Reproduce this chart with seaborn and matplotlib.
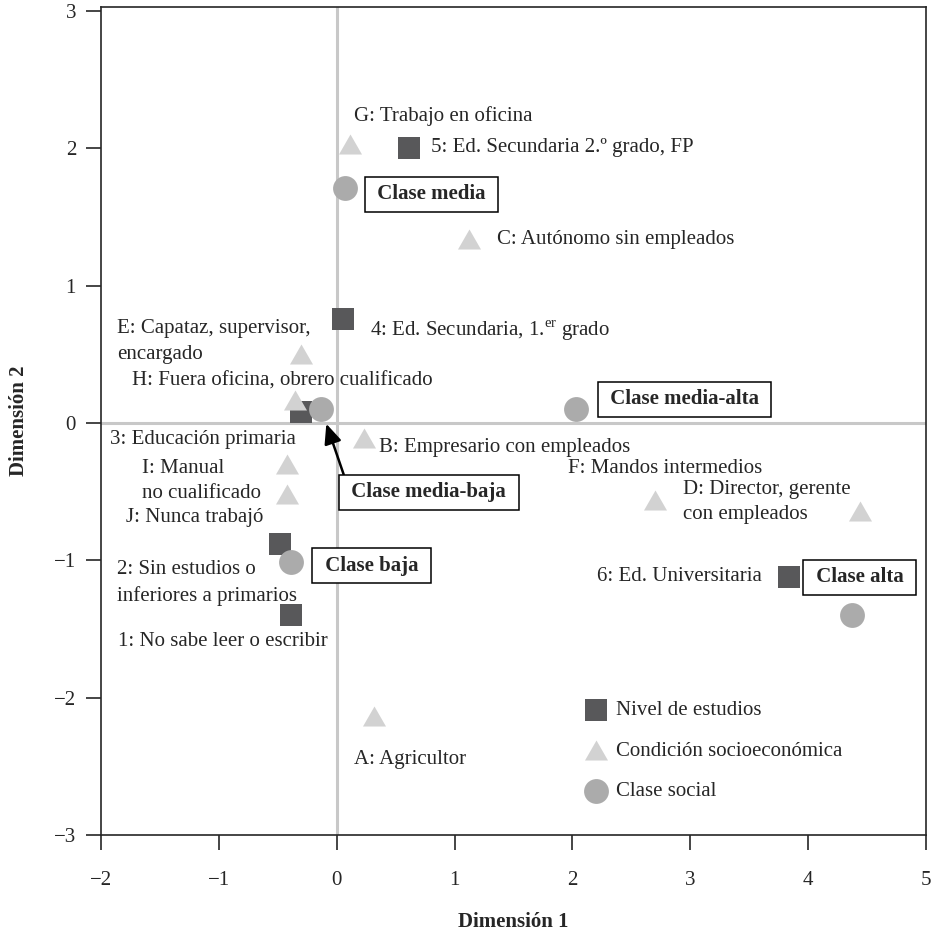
import matplotlib
matplotlib.use("Agg")
import matplotlib.pyplot as plt
from matplotlib.path import Path
import seaborn as sns
import pandas as pd

# Nivel de estudios (squares)
estudios_lab = ["1: No sabe leer o escribir", "2: Sin estudios o\ninferiores a primarios",
                "3: Educación primaria", r"4: Ed. Secundaria, 1.$^{\mathrm{er}}$ grado",
                "5: Ed. Secundaria 2.º grado, FP", "6: Ed. Universitaria"]
estudios_x = [-0.39, -0.48, -0.30, 0.05, 0.61, 3.84]
estudios_y = [-1.40, -0.88, 0.08, 0.76, 2.00, -1.12]

# Condición socioeconómica (triangles)
condicion_lab = ["A: Agricultor", "B: Empresario con empleados", "C: Autónomo sin empleados",
                 "D: Director, gerente\ncon empleados", "E: Capataz, supervisor,\nencargado",
                 "F: Mandos intermedios", "G: Trabajo en oficina",
                 "H: Fuera oficina, obrero cualificado", "I: Manual\nno cualificado",
                 "J: Nunca trabajó"]
condicion_x = [0.32, 0.23, 1.12, 4.44, -0.30, 2.70, 0.11, -0.35, -0.42, -0.42]
condicion_y = [-2.13, -0.11, 1.34, -0.64, 0.50, -0.56, 2.03, 0.17, -0.30, -0.52]

# Clase social (circles)
clase_lab = ["Clase baja", "Clase media-baja", "Clase media", "Clase media-alta", "Clase alta"]
clase_x = [-0.39, -0.13, 0.07, 2.03, 4.37]
clase_y = [-1.01, 0.10, 1.71, 0.10, -1.40]

# text offsets in pixels (dx, dy up, ha)
offsets = {
    "1": (-173, -26, "left"), "2": (-163, -39, "left"), "3": (-191, -27, "left"),
    "4": (27, -12, "left"), "5": (22, 1, "left"), "6": (-27, 0, "right"),
    "A": (-20, -44, "left"), "B": (15, -9, "left"), "C": (28, 0, "left"),
    "D": (-177, 9, "left"), "E": (-184, 13, "left"), "F": (-87, 31, "left"),
    "G": (4, 28, "left"), "H": (-163, 19, "left"), "I": (-145, -17, "left"),
    "J": (-161, -23, "left"),
    "Clase baja": (29, -4, "left"), "Clase media-baja": (25, -83, "left"),
    "Clase media": (27, -6, "left"), "Clase media-alta": (29, 10, "left"),
    "Clase alta": (-41, 38, "left"),
}

sns.set_style("ticks")
plt.rcParams["font.family"] = ["Liberation Serif", "DejaVu Serif"]
plt.rcParams["mathtext.fontset"] = "custom"
plt.rcParams["mathtext.rm"] = "Liberation Serif"

FS = 15
tri = Path([(-1, -0.87), (1, -0.87), (0, 0.87), (-1, -0.87)],
           [Path.MOVETO, Path.LINETO, Path.LINETO, Path.CLOSEPOLY])

fig = plt.figure(figsize=(9.31, 9.34), dpi=100)
ax = fig.add_axes([0.1085, 0.106, 0.886, 0.8865])
ax.axvline(0, color="#c8c8c8", lw=2.2, zorder=0)
ax.axhline(0, color="#c8c8c8", lw=2.2, zorder=0)

df_e = pd.DataFrame({"x": estudios_x, "y": estudios_y})
df_c = pd.DataFrame({"x": condicion_x, "y": condicion_y})
df_s = pd.DataFrame({"x": clase_x, "y": clase_y})

sns.scatterplot(data=df_e, x="x", y="y", marker="s", s=240, color="#58585a",
                linewidth=0, ax=ax, label="Nivel de estudios", zorder=3)
sns.scatterplot(data=df_c, x="x", y="y", marker=tri, s=275, color="#d2d2d2",
                linewidth=0, ax=ax, label="Condición socioeconómica", zorder=3)
sns.scatterplot(data=df_s, x="x", y="y", marker="o", s=320, color="#ababab",
                linewidth=0, ax=ax, label="Clase social", zorder=3)

px = 0.72
for labs, xs, ys in [(estudios_lab, estudios_x, estudios_y),
                     (condicion_lab, condicion_x, condicion_y)]:
    for lab, x, y in zip(labs, xs, ys):
        dx, dy, ha = offsets[lab.split(":")[0]]
        ax.annotate(lab, xy=(x, y), xytext=(dx * px, dy * px), textcoords="offset points",
                    ha=ha, va="center", fontsize=FS, linespacing=1.45, zorder=4)

for lab, x, y in zip(clase_lab, clase_x, clase_y):
    dx, dy, ha = offsets[lab]
    arrow = None
    if lab == "Clase media-baja":
        arrow = dict(arrowstyle="-|>,head_length=0.8,head_width=0.35", color="black",
                     lw=1.8, relpos=(0.0, 1.0), shrinkA=0, shrinkB=11)
    ax.annotate(" " + lab + " ", xy=(x, y), xytext=(dx * px, dy * px),
                textcoords="offset points", ha=ha, va="center", fontsize=FS,
                fontweight="bold", zorder=4,
                bbox=dict(boxstyle="square,pad=0.35", fc="white", ec="black", lw=1.1),
                arrowprops=arrow)

ax.set_xlim(-2, 5)
ax.set_ylim(-3, 3.03)
ax.set_xticks(range(-2, 6))
ax.set_yticks(range(-3, 4))
ax.set_xticklabels([str(v).replace("-", "\u2212") for v in range(-2, 6)])
ax.set_yticklabels([str(v).replace("-", "\u2212") for v in range(-3, 4)])
ax.tick_params(direction="out", length=11, width=1.2, labelsize=15, pad=7)
ax.tick_params(axis="x", pad=15)
for sp in ax.spines.values():
    sp.set_linewidth(1.2)
ax.set_xlabel("Dimensión 1", fontsize=15, fontweight="bold", labelpad=16)
ax.set_ylabel("Dimensión 2", fontsize=15, fontweight="bold", labelpad=18)

ax.legend(loc="upper left", bbox_to_anchor=(0.587, 0.162), frameon=False, fontsize=FS,
          handlelength=1.0, handletextpad=0.5, labelspacing=1.0, borderpad=0,
          borderaxespad=0)

fig.savefig("out.png", dpi=100)
